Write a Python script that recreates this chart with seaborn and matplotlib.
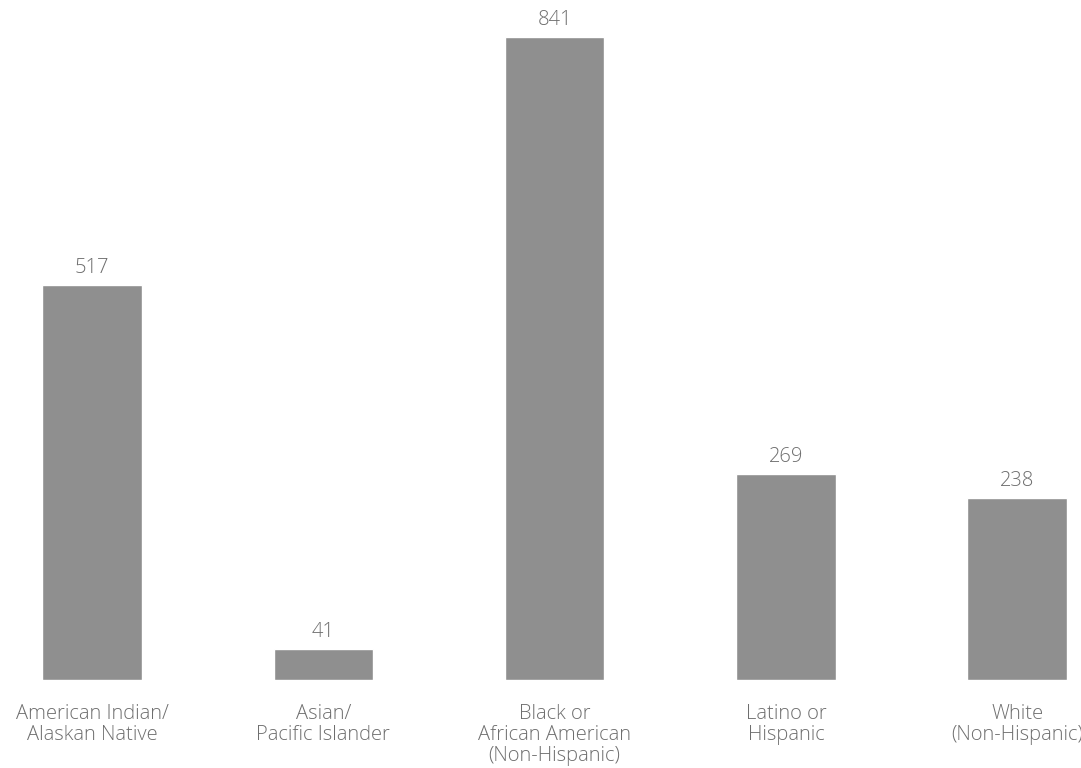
import pandas as pd
import seaborn as sns
import matplotlib.pyplot as plt

# data
groups = ['American Indian/\nAlaskan Native', 'Asian/\nPacific Islander',
          'Black or\nAfrican American\n(Non-Hispanic)', 'Latino or\nHispanic',
          'White\n(Non-Hispanic)']
counts = [517, 41, 841, 269, 238]

df = pd.DataFrame({'group': groups, 'count': counts})

sns.set_style('white')
plt.rcParams['font.family'] = ['Open Sans', 'DejaVu Sans']

fig = plt.figure(figsize=(10.81, 7.68), dpi=100)
ax = fig.add_axes([0, 88 / 768, 1, 680 / 768])

sns.barplot(data=df, x='group', y='count', color='#8f8f8f', width=0.43,
            saturation=1, ax=ax)

# value labels above each bar
for i, v in enumerate(counts):
    ax.text(i, v + 9, str(v), ha='center', va='bottom', fontsize=14.5,
            color='#6e6e6e', fontweight='light')

ax.set_xlim(-0.398, 4.276)
ax.set_ylim(0, 889)
ax.set_xlabel('')
ax.set_ylabel('')
ax.set_yticks([])
ax.tick_params(axis='x', length=0, pad=17, labelsize=14.5, labelcolor='#6e6e6e')
for lbl in ax.get_xticklabels():
    lbl.set_fontweight('light')
    lbl.set_linespacing(1.08)
sns.despine(left=True, bottom=True)

plt.savefig('out.png', dpi=100)
